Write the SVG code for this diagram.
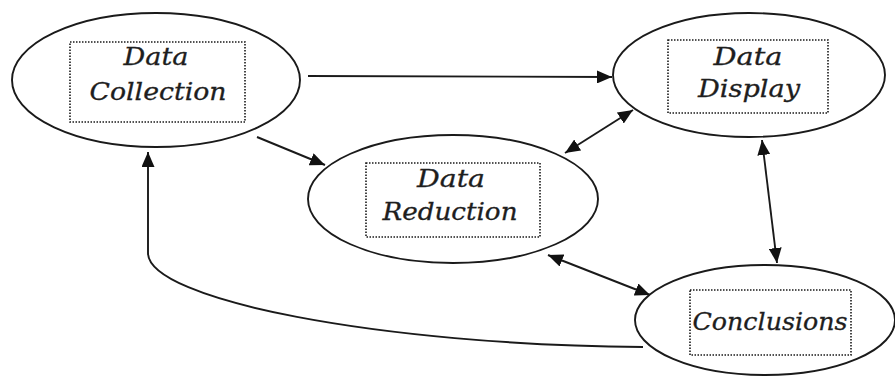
<svg xmlns="http://www.w3.org/2000/svg" width="895" height="376" viewBox="0 0 895 376">
<defs>
<style>
.ell{fill:#fff;stroke:#1a1a1a;stroke-width:1.9}
.box{fill:none;stroke:#1a1a1a;stroke-width:1.6;stroke-dasharray:1.5 1.5}
.lbl{font-family:"DejaVu Serif","Liberation Serif",serif;font-style:italic;font-size:24px;fill:#1e1e1e;stroke:#1e1e1e;stroke-width:0.3;text-anchor:middle}
.con{fill:none;stroke:#1a1a1a;stroke-width:1.9}
</style>
<marker id="ah" viewBox="0 0 15 13" refX="15" refY="6.5" markerWidth="15" markerHeight="13" markerUnits="userSpaceOnUse" orient="auto-start-reverse">
<path d="M0,0 L15,6.5 L0,13 Z" fill="#111"/>
</marker>
</defs>
<rect width="895" height="376" fill="#fff"/>
<g id="connectors">
<path class="con" d="M308,76 L612,77" marker-end="url(#ah)"/>
<path class="con" d="M257,137 L325,165" marker-end="url(#ah)"/>
<path class="con" d="M565,153 L633,110" marker-start="url(#ah)" marker-end="url(#ah)"/>
<path class="con" d="M762,140 L777,263" marker-start="url(#ah)" marker-end="url(#ah)"/>
<path class="con" d="M548,255 L650,295" marker-start="url(#ah)" marker-end="url(#ah)"/>
<path class="con" d="M643,347 C380,345 148,300 148,253 L148,152" marker-end="url(#ah)"/>
</g>
<g id="data-collection">
<ellipse class="ell" cx="156" cy="80" rx="144" ry="67"/>
<rect class="box" x="70" y="42" width="175" height="80"/>
<text class="lbl" x="156" y="65" textLength="65" lengthAdjust="spacingAndGlyphs">Data</text>
<text class="lbl" x="158" y="100" textLength="137" lengthAdjust="spacingAndGlyphs">Collection</text>
</g>
<g id="data-display">
<ellipse class="ell" cx="749" cy="75" rx="136" ry="62"/>
<rect class="box" x="668" y="40" width="160" height="73"/>
<text class="lbl" x="748" y="65" textLength="69" lengthAdjust="spacingAndGlyphs">Data</text>
<text class="lbl" x="749" y="97" textLength="102" lengthAdjust="spacingAndGlyphs">Display</text>
</g>
<g id="data-reduction">
<ellipse class="ell" cx="453" cy="199" rx="145" ry="64"/>
<rect class="box" x="366" y="163" width="174" height="74"/>
<text class="lbl" x="451" y="187" textLength="68" lengthAdjust="spacingAndGlyphs">Data</text>
<text class="lbl" x="450" y="220" textLength="135" lengthAdjust="spacingAndGlyphs">Reduction</text>
</g>
<g id="conclusions">
<ellipse class="ell" cx="765" cy="320" rx="130" ry="55"/>
<rect class="box" x="690" y="290" width="161" height="65"/>
<text class="lbl" x="770" y="330" textLength="155" lengthAdjust="spacingAndGlyphs">Conclusions</text>
</g>
</svg>
